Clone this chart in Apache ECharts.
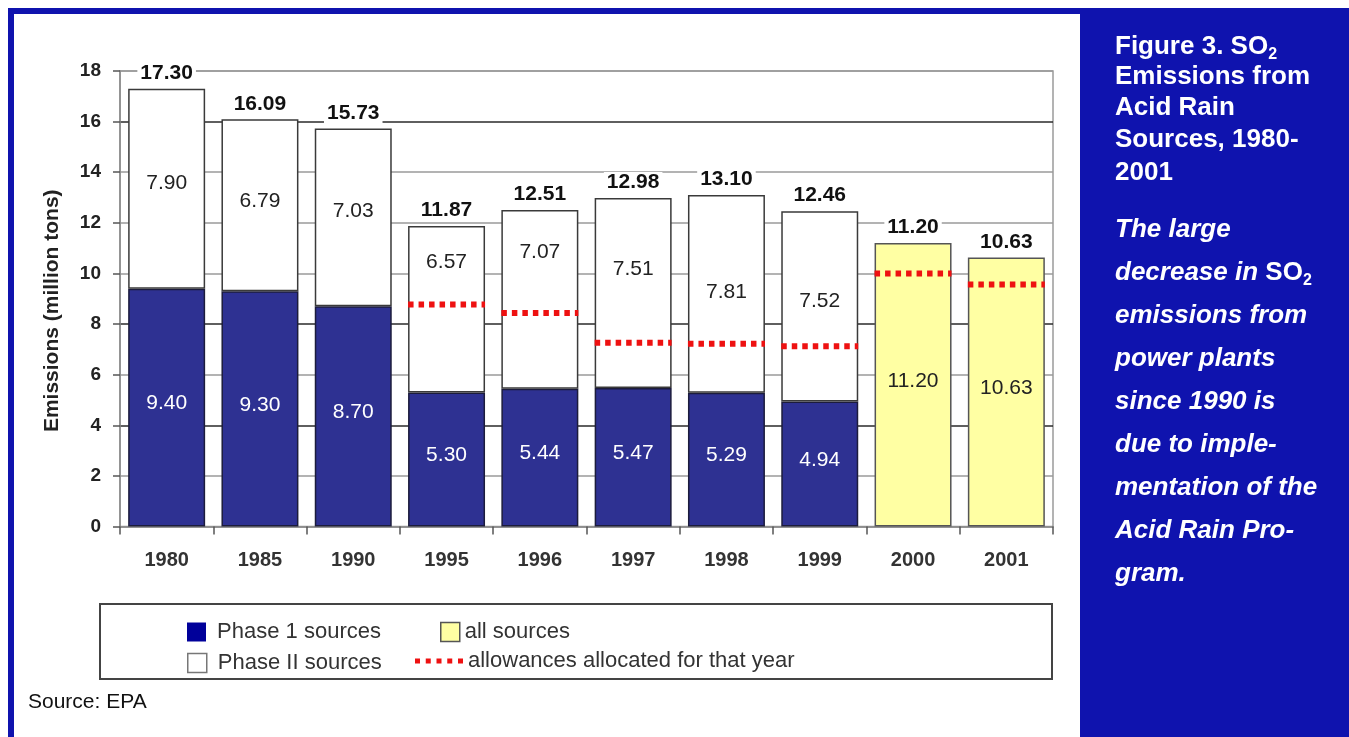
<!DOCTYPE html>
<html>
<head>
<meta charset="utf-8">
<title>SO2 Emissions from Acid Rain Sources, 1980-2001</title>
<script src="https://cdn.jsdelivr.net/npm/echarts@6/dist/echarts.min.js"></script>
<style>
  html, body { margin: 0; padding: 0; background: #ffffff; }
  #chart { width: 1349px; height: 737px; }
</style>
</head>
<body>
<div id="chart"></div>
<script>
// ---- data (million tons) ----
const years = ['1980', '1985', '1990', '1995', '1996', '1997', '1998', '1999', '2000', '2001'];
const phase1 = [9.40, 9.30, 8.70, 5.30, 5.44, 5.47, 5.29, 4.94, null, null];
const phase2 = [7.90, 6.79, 7.03, 6.57, 7.07, 7.51, 7.81, 7.52, null, null];
const allSources = [null, null, null, null, null, null, null, null, 11.20, 10.63];
const totals = [17.30, 16.09, 15.73, 11.87, 12.51, 12.98, 13.10, 12.46, 11.20, 10.63];
const allowanceYears = ['1995', '1996', '1997', '1998', '1999', '2000', '2001'];
const allowances = [8.77, 8.44, 7.26, 7.22, 7.12, 10.00, 9.56];
const yMin = 0, yMax = 18, yStep = 2;

// ---- styling ----
const FONT = "'Liberation Sans', Arial, Helvetica, sans-serif";
const NAVY = '#2e3192';
const YELLOW = '#ffffa3';
const RED = '#ee1111';
const FRAME_BLUE = '#0f13ae';
const BAR_RATIO = 0.825;                 // bar width / category width
// vertical nudge (px) of the Phase II value labels inside their segments
const phase2LabelShift = [-5, -4, -6, -47, -47, -24, -2, -5];

const dash = v => (v === null ? '-' : v);

const chart = echarts.init(document.getElementById('chart'), null, { renderer: 'canvas' });

const gridColors = ['#9a9a9a', '#9a9a9a', '#2a2a2a', '#9a9a9a', '#2a2a2a',
                    '#9a9a9a', '#9a9a9a', '#9a9a9a', '#2a2a2a', '#9a9a9a'];

const legendText = { fontSize: 22, color: '#333', fontFamily: FONT };

const option = {
  backgroundColor: '#ffffff',
  animation: false,
  textStyle: { fontFamily: FONT },
  grid: {
    left: 120, right: 296, top: 71, bottom: 210.5,
    show: true, borderColor: '#9a9a9a', borderWidth: 1.5,
    outerBoundsMode: 'none'
  },
  xAxis: {
    type: 'category',
    data: years,
    axisLine: { lineStyle: { color: '#8a8a8a', width: 1.5 } },
    axisTick: { show: true, length: 8, lineStyle: { color: '#555', width: 1.5 } },
    axisLabel: { fontSize: 20, fontWeight: 'bold', color: '#333', margin: 24, fontFamily: FONT },
    splitLine: { show: false }
  },
  yAxis: {
    type: 'value',
    min: yMin, max: yMax, interval: yStep,
    name: 'Emissions (million tons)',
    nameLocation: 'middle',
    nameRotate: 90,
    nameGap: 57,
    nameTextStyle: { fontSize: 21, fontWeight: 'bold', color: '#222', fontFamily: FONT, padding: [0, 24, 0, 0] },
    axisLine: { show: true, lineStyle: { color: '#8a8a8a', width: 1.5 } },
    axisTick: { show: true, length: 7, lineStyle: { color: '#555', width: 1.5 } },
    axisLabel: { fontSize: 19, fontWeight: 'bold', color: '#222', margin: 19, fontFamily: FONT },
    splitLine: { show: true, lineStyle: { color: gridColors, width: 1.5 } }
  },
  legend: [
    {
      data: [{ name: 'Phase 1 sources', itemStyle: { color: '#00009a', borderColor: '#00009a', borderWidth: 0 } }],
      left: 187, top: 621, padding: 0, itemWidth: 19, itemHeight: 19, icon: 'rect',
      selectedMode: false, formatter: n => ' ' + n,
      textStyle: legendText
    },
    {
      data: [{ name: 'Phase II sources', itemStyle: { color: '#ffffff', borderColor: '#777', borderWidth: 1.5 } }],
      left: 187, top: 652, padding: 0, itemWidth: 19, itemHeight: 19, icon: 'rect',
      selectedMode: false, formatter: n => ' ' + n,
      textStyle: legendText
    },
    {
      data: [{ name: 'all sources', itemStyle: { color: YELLOW, borderColor: '#555', borderWidth: 1.5 } }],
      left: 440, top: 621, padding: 0, itemWidth: 19, itemHeight: 19, icon: 'rect',
      selectedMode: false,
      textStyle: legendText
    },
    {
      data: [{ name: 'allowances allocated for that year', itemStyle: { color: RED, borderWidth: 0 } }],
      left: 415, top: 650, padding: 0, itemWidth: 48, itemHeight: 5,
      icon: 'path://M0,0h5v5h-5zM10.75,0h5v5h-5zM21.5,0h5v5h-5zM32.25,0h5v5h-5zM43,0h5v5h-5z',
      selectedMode: false,
      textStyle: legendText
    }
  ],
  series: [
    {
      name: 'Phase 1 sources',
      type: 'bar',
      stack: 'emis',
      barCategoryGap: ((1 - BAR_RATIO) * 100) + '%',
      barGap: '-100%',
      data: phase1.map(dash),
      itemStyle: { color: NAVY, borderColor: '#1c1c3c', borderWidth: 1.5 },
      label: {
        show: true, position: 'inside', offset: [0, -4],
        color: '#ffffff', fontSize: 21, fontFamily: FONT,
        formatter: p => p.value.toFixed(2)
      },
      emphasis: { disabled: true }
    },
    {
      name: 'Phase II sources',
      type: 'bar',
      stack: 'emis',
      barGap: '-100%',
      data: phase2.map((v, i) => v === null ? '-' : {
        value: v,
        label: { offset: [0, phase2LabelShift[i]] }
      }),
      itemStyle: { color: '#ffffff', borderColor: '#3a3a3a', borderWidth: 1.5 },
      label: {
        show: true, position: 'inside',
        color: '#222', fontSize: 21, fontFamily: FONT,
        formatter: p => p.value.toFixed(2)
      },
      emphasis: { disabled: true }
    },
    {
      name: 'all sources',
      type: 'bar',
      stack: 'emis',
      barGap: '-100%',
      data: allSources.map(dash),
      itemStyle: { color: YELLOW, borderColor: '#555', borderWidth: 1.5 },
      label: {
        show: true, position: 'inside', offset: [0, -4],
        color: '#222', fontSize: 21, fontFamily: FONT,
        formatter: p => p.value.toFixed(2)
      },
      emphasis: { disabled: true }
    },
    {
      name: 'Total',
      type: 'bar',
      barGap: '-100%',
      silent: true,
      data: totals,
      itemStyle: { color: 'rgba(0,0,0,0)', borderWidth: 0 },
      label: {
        show: true, position: 'top', distance: 5,
        color: '#111', fontSize: 21, fontWeight: 'bold', fontFamily: FONT,
        backgroundColor: '#ffffff', padding: [0, 3, 0, 3],
        formatter: p => p.value.toFixed(2)
      },
      emphasis: { disabled: true },
      z: 3
    },
    {
      name: 'allowances allocated for that year',
      type: 'custom',
      silent: true,
      itemStyle: { color: RED },
      data: allowanceYears.map((y, i) => [y, allowances[i]]),
      encode: { x: 0, y: 1 },
      renderItem: function (params, api) {
        const pt = api.coord([api.value(0), api.value(1)]);
        const w = api.size([1, 0])[0] * BAR_RATIO;
        return {
          type: 'line',
          shape: { x1: pt[0] - w / 2, y1: pt[1], x2: pt[0] + w / 2, y2: pt[1] },
          style: { stroke: RED, lineWidth: 6, lineDash: [5.5, 5], lineCap: 'butt' }
        };
      },
      z: 4
    }
  ],
  graphic: [
    // blue frame and side panel
    { type: 'rect', shape: { x: 8, y: 8, width: 1341, height: 6 }, style: { fill: FRAME_BLUE }, silent: true, z: 0 },
    { type: 'rect', shape: { x: 8, y: 8, width: 6, height: 729 }, style: { fill: FRAME_BLUE }, silent: true, z: 0 },
    { type: 'rect', shape: { x: 1080, y: 8, width: 269, height: 729 }, style: { fill: FRAME_BLUE }, silent: true, z: 0 },
    // legend frame
    { type: 'rect', shape: { x: 100, y: 604, width: 952, height: 75 }, style: { fill: 'none', stroke: '#444', lineWidth: 2 }, silent: true, z: 0 },
    // source note
    { type: 'text', x: 28, y: 702, style: { text: 'Source: EPA', fill: '#111', fontSize: 21, fontFamily: FONT, verticalAlign: 'middle' }, silent: true },
  ]
};

// caption in the side panel
const captionTitle = [
  '{b|Figure 3. SO}{s|2}',
  '{b|Emissions from}',
  '{b|Acid Rain}',
  '{b|Sources, 1980-}',
  '{b|2001}'
];
const captionTitleY = [47, 77, 108, 140, 173];
const captionBody = [
  'The large',
  'decrease in {u|SO}{s|2}',
  'emissions from',
  'power plants',
  'since 1990 is',
  'due to imple-',
  'mentation of the',
  'Acid Rain Pro-',
  'gram.'
];
const captionBodyY = [230, 273, 316, 359, 402, 445, 488, 531, 574];

const richCommon = {
  b: { fontSize: 26, fontWeight: 'bold', fontFamily: FONT, color: '#fff', lineHeight: 32 },
  u: { fontSize: 26, fontWeight: 'bold', fontStyle: 'normal', fontFamily: FONT, color: '#fff', lineHeight: 32 },
  s: { fontSize: 16, fontWeight: 'bold', fontStyle: 'normal', fontFamily: FONT, color: '#fff', lineHeight: 18, verticalAlign: 'bottom' }
};

captionTitle.forEach((t, i) => {
  option.graphic.push({
    type: 'text', x: 1115, y: captionTitleY[i], silent: true,
    style: {
      text: t, fill: '#fff', fontSize: 26, fontWeight: 'bold', fontFamily: FONT,
      lineHeight: 32, verticalAlign: 'middle', rich: richCommon
    }
  });
});
captionBody.forEach((t, i) => {
  option.graphic.push({
    type: 'text', x: 1115, y: captionBodyY[i], silent: true,
    style: {
      text: t, fill: '#fff', fontSize: 26, fontWeight: 'bold', fontStyle: 'italic', fontFamily: FONT,
      lineHeight: 32, verticalAlign: 'middle', rich: richCommon
    }
  });
});

chart.setOption(option);
</script>
</body>
</html>
